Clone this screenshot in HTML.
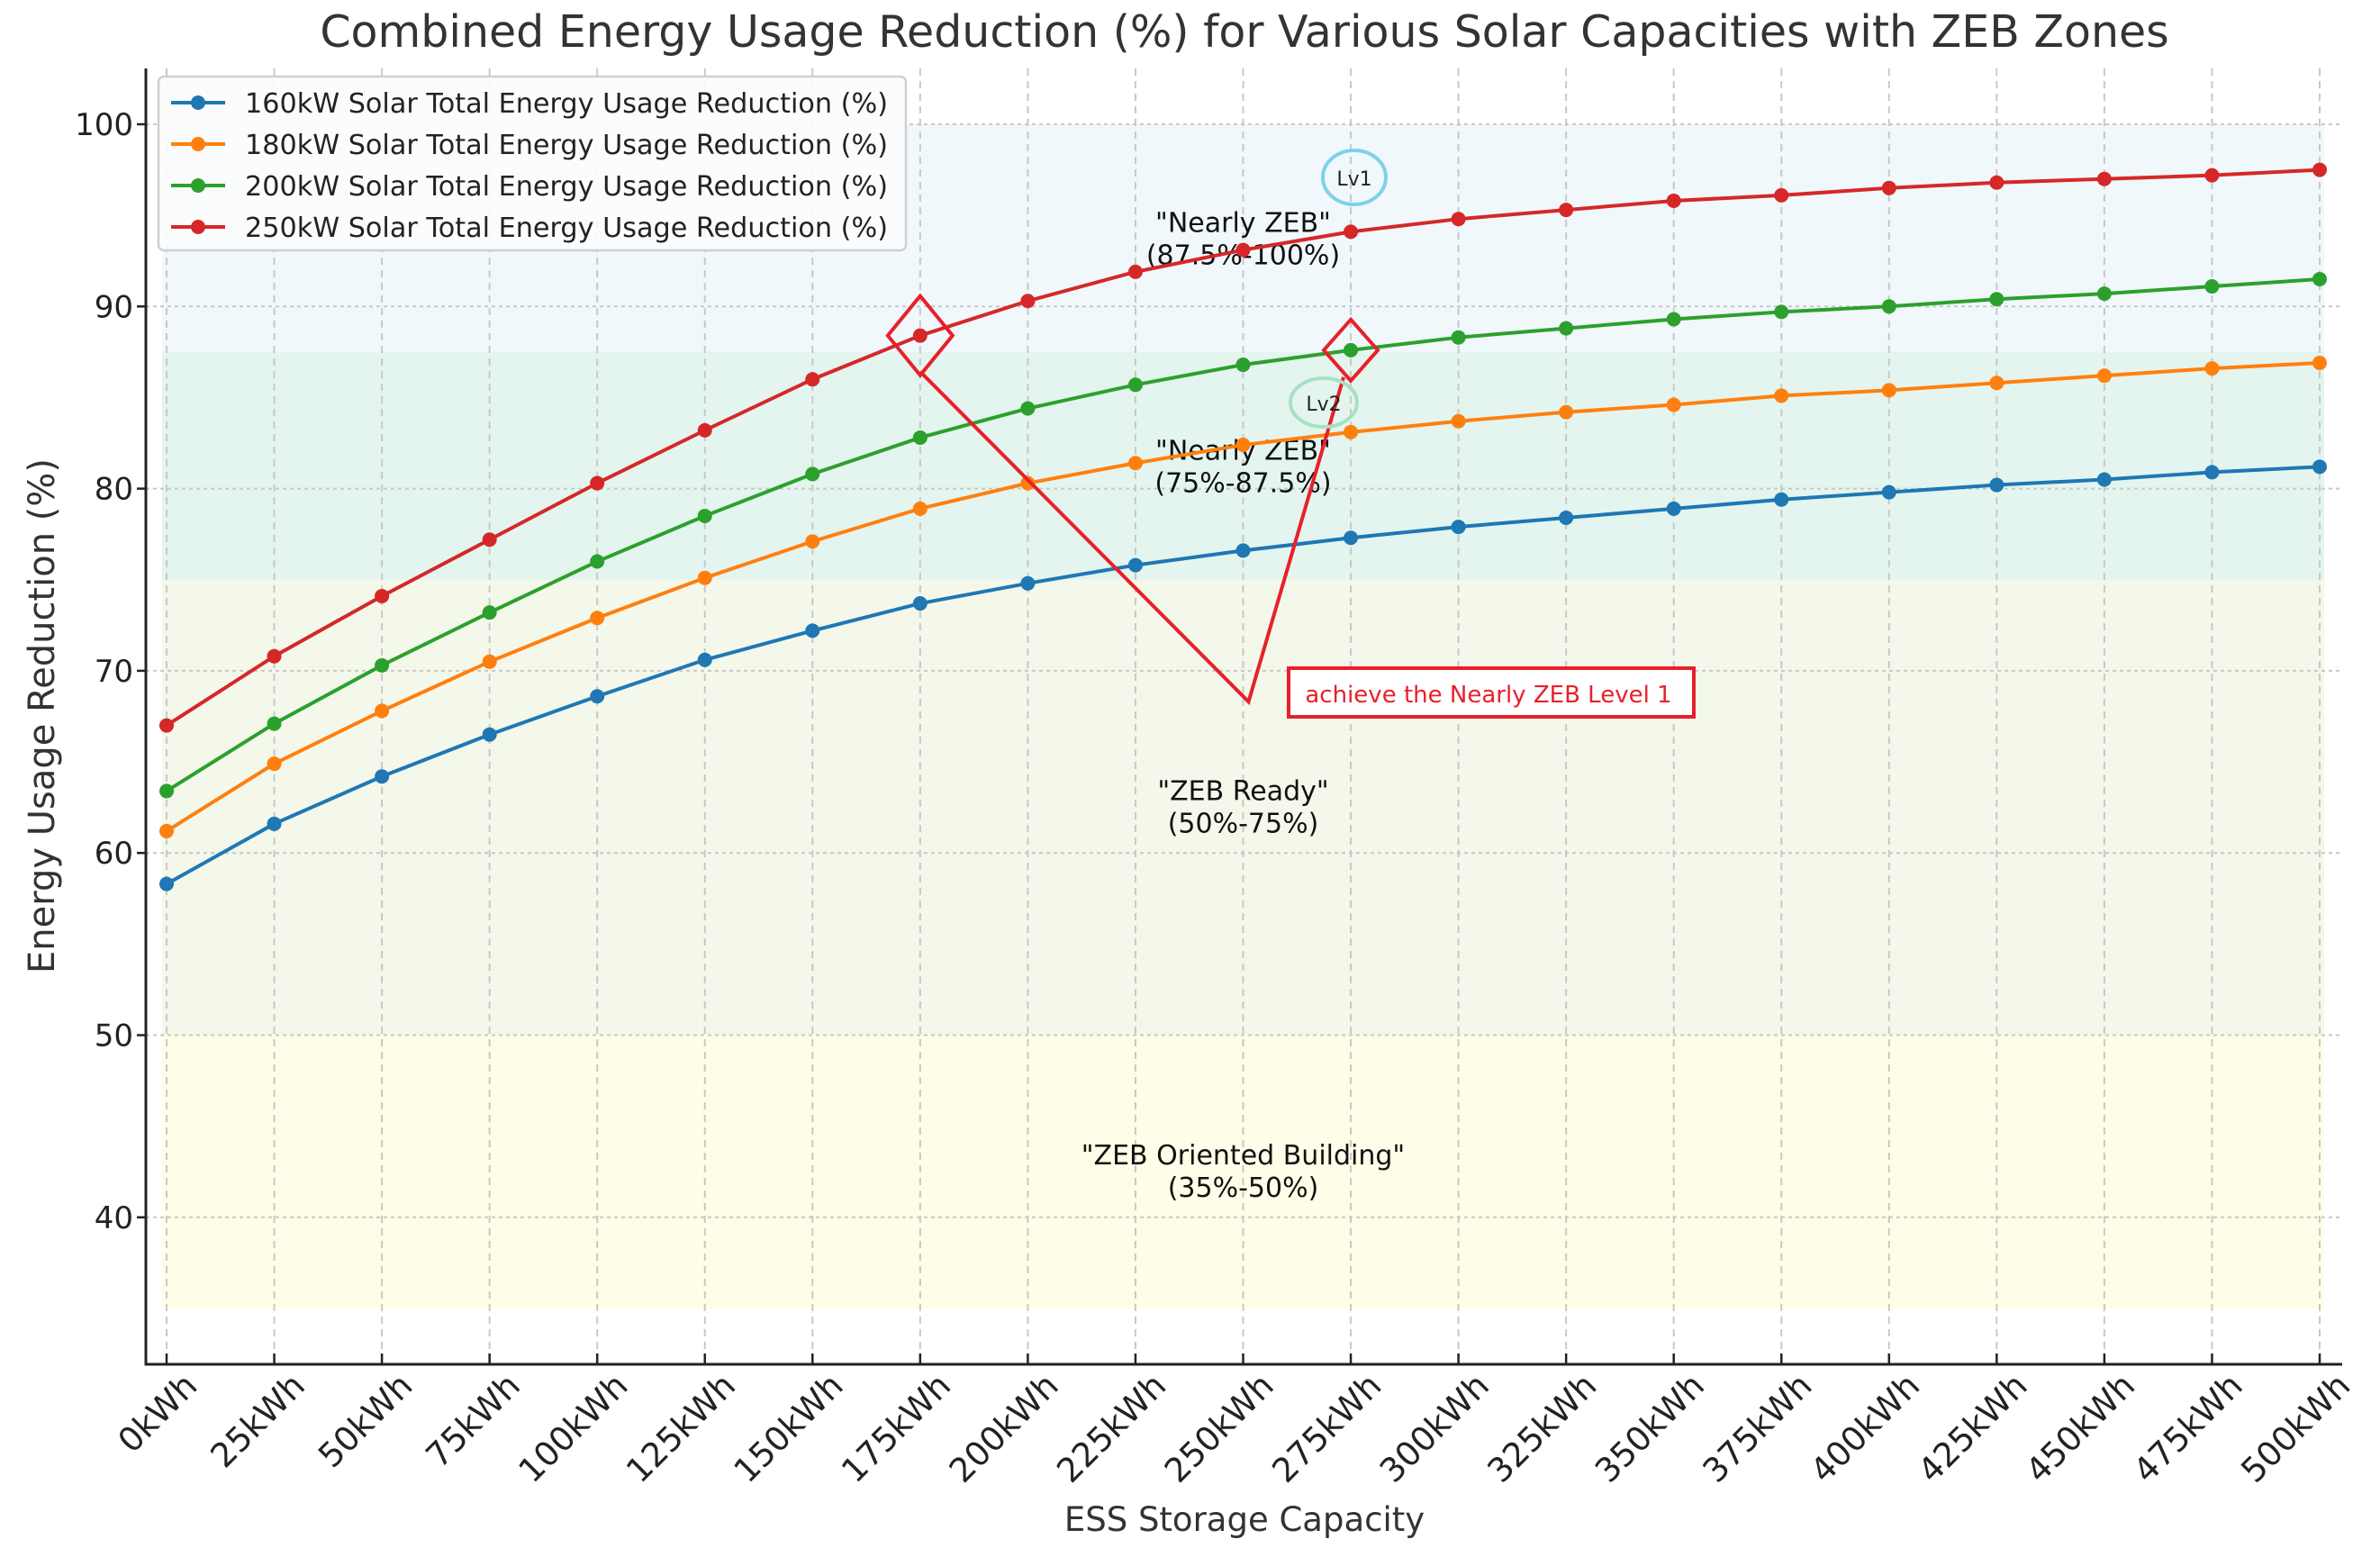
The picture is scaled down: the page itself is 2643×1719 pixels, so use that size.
<!DOCTYPE html>
<html><head><meta charset="utf-8"><style>
html,body{margin:0;padding:0;background:#fff}
svg{display:block;font-family:"DejaVu Sans","Liberation Sans",sans-serif}
</style></head><body>
<svg id="chart" width="2643" height="1719" viewBox="0 0 2643 1719" xmlns="http://www.w3.org/2000/svg">
<g id="bands"></g><g id="grid"></g><g id="zones"></g><g id="series"></g><g id="axes"></g><g id="annot"></g><g id="legend"></g>
</svg>
<script>
const categories=[0,25,50,75,100,125,150,175,200,225,250,275,300,325,350,375,400,425,450,475,500];
const s160=[58.3,61.6,64.2,66.5,68.6,70.6,72.2,73.7,74.8,75.8,76.6,77.3,77.9,78.4,78.9,79.4,79.8,80.2,80.5,80.9,81.2];
const s180=[61.2,64.9,67.8,70.5,72.9,75.1,77.1,78.9,80.3,81.4,82.4,83.1,83.7,84.2,84.6,85.1,85.4,85.8,86.2,86.6,86.9];
const s200=[63.4,67.1,70.3,73.2,76.0,78.5,80.8,82.8,84.4,85.7,86.8,87.6,88.3,88.8,89.3,89.7,90.0,90.4,90.7,91.1,91.5];
const s250=[67.0,70.8,74.1,77.2,80.3,83.2,86.0,88.4,90.3,91.9,93.1,94.1,94.8,95.3,95.8,96.1,96.5,96.8,97.0,97.2,97.5];
const yTicks=[40,50,60,70,80,90,100];
const seriesNames=["160kW Solar Total Energy Usage Reduction (%)","180kW Solar Total Energy Usage Reduction (%)","200kW Solar Total Energy Usage Reduction (%)","250kW Solar Total Energy Usage Reduction (%)"];
const zoneLo=[87.5,75,50,35];
const zoneHi=[100,87.5,75,50];
const zoneLabel1=['"Nearly ZEB"','"Nearly ZEB"','"ZEB Ready"','"ZEB Oriented Building"'];
const zoneLabel2=['(87.5%-100%)','(75%-87.5%)','(50%-75%)','(35%-50%)'];

const NS="http://www.w3.org/2000/svg";
const L=162,R=2601,T=76,B=1515;
const x=v=>185+v*(2576-185)/500;
const y=v=>138+(100-v)*20.23;
function mk(p,tag,at,txt){const e=document.createElementNS(NS,tag);for(const k in at)e.setAttribute(k,at[k]);if(txt!==undefined)e.textContent=txt;document.getElementById(p).appendChild(e);return e;}

const bandCols=["#f0f8fb","#e3f5ee","#f3f8ea","#fefde8"];
zoneLo.forEach((lo,i)=>{
 const r=mk('bands','rect',{x:x(0)-5,y:y(zoneHi[i]),width:x(500)-x(0)+10,height:y(lo)-y(zoneHi[i]),fill:bandCols[i]});
 
 
});
categories.forEach(c=>{
 const g=mk('grid','line',{x1:x(c),x2:x(c),y1:T,y2:B,stroke:"#c8c8c8","stroke-width":2,"stroke-dasharray":"8,6"});
 
 
 const t=mk('axes','line',{x1:x(c),x2:x(c),y1:B,y2:B-12,stroke:"#222","stroke-width":2.5});
 
 
 const ax0=x(c)+36, ay0=B+26;
 const lb=mk('axes','text',{x:ax0,y:ay0,"font-size":37,fill:"#222","text-anchor":"end",transform:`rotate(-45 ${ax0} ${ay0})`},c+"kWh");
 
 
});
yTicks.forEach(v=>{
 const g=mk('grid','line',{x1:L,x2:R,y1:y(v),y2:y(v),stroke:"#c8c8c8","stroke-width":2,"stroke-dasharray":"4,4"});
 
 
 const t=mk('axes','line',{x1:L-10,x2:L,y1:y(v),y2:y(v),stroke:"#222","stroke-width":2.5});
 
 
 const lb=mk('axes','text',{x:L-14,y:y(v)+12,"font-size":34,fill:"#222","text-anchor":"end"},v);
 
 
});
zoneLo.forEach((lo,i)=>{
 const cx=x(250);
 const yy=[y(93.7),y(81.2),y(62.5),y(42.5)][i];
 const a=mk('zones','text',{x:cx,y:yy-8,"font-size":30,fill:"#111","text-anchor":"middle"},zoneLabel1[i]);
 
 
 const b=mk('zones','text',{x:cx,y:yy+28,"font-size":30,fill:"#111","text-anchor":"middle"},zoneLabel2[i]);
 
 
});
const cols=["#1f77b4","#ff7f0e","#2ca02c","#d62728"];
[s160,s180,s200,s250].forEach((s,i)=>{
 const p=mk('series','polyline',{points:s.map((v,j)=>x(categories[j])+","+y(v)).join(" "),fill:"none",stroke:cols[i],"stroke-width":4});
 
 
 s.forEach((v,j)=>{
  const c=mk('series','circle',{cx:x(categories[j]),cy:y(v),r:8,fill:cols[i]});
  
  
 });
});
const ax=mk('axes','path',{d:`M${L} ${T} V${B} H${R}`,fill:"none",stroke:"#222","stroke-width":3});


const tt=mk('axes','text',{x:1382,y:52,"font-size":49,fill:"#333","text-anchor":"middle"},"Combined Energy Usage Reduction (%) for Various Solar Capacities with ZEB Zones");


const xt=mk('axes','text',{x:1382,y:1700,"font-size":37,fill:"#333","text-anchor":"middle"},"ESS Storage Capacity");


const yt=mk('axes','text',{x:60,y:795,"font-size":40,fill:"#333","text-anchor":"middle",transform:"rotate(-90 60 795)"},"Energy Usage Reduction (%)");


const d1x=x(175),d1y=y(88.4),d2x=x(275),d2y=y(87.6);
const dm1=mk('annot','path',{d:`M${d1x} ${d1y-44} L${d1x+36} ${d1y} L${d1x} ${d1y+44} L${d1x-36} ${d1y} Z`,fill:"none",stroke:"#e8202a","stroke-width":4});


const dm2=mk('annot','path',{d:`M${d2x} ${d2y-34} L${d2x+30} ${d2y} L${d2x} ${d2y+34} L${d2x-30} ${d2y} Z`,fill:"none",stroke:"#e8202a","stroke-width":4});


const vp=mk('annot','polyline',{points:`${d1x},${d1y+40} ${x(250)+6},${y(68.3)} ${d2x-8},${d2y+30}`,fill:"none",stroke:"#e8202a","stroke-width":4});


const bx=mk('annot','rect',{x:1431,y:742,width:450,height:54,fill:"#fff",stroke:"#e8202a","stroke-width":4});


const bt=mk('annot','text',{x:1653,y:780,"font-size":26,fill:"#e8202a","text-anchor":"middle"},"achieve the Nearly ZEB Level 1");


const e1=mk('annot','ellipse',{cx:1504,cy:197,rx:35,ry:30,fill:"none",stroke:"#7fd0ea","stroke-width":4});


const e1t=mk('annot','text',{x:1504,y:206,"font-size":22,fill:"#222","text-anchor":"middle"},"Lv1");


const e2=mk('annot','ellipse',{cx:1470,cy:447,rx:37,ry:27,fill:"none",stroke:"#a8e0c4","stroke-width":4});


const e2t=mk('annot','text',{x:1470,y:456,"font-size":22,fill:"#222","text-anchor":"middle"},"Lv2");


const lg=mk('legend','rect',{x:176,y:85,width:830,height:193,rx:6,fill:"#fcfcfd","fill-opacity":0.92,stroke:"#d0d0d0","stroke-width":2.5});


seriesNames.forEach((n,i)=>{
 const yy=114+i*46;
 const l=mk('legend','line',{x1:190,x2:250,y1:yy,y2:yy,stroke:cols[i],"stroke-width":4});
 
 
 const c=mk('legend','circle',{cx:220,cy:yy,r:8,fill:cols[i]});
 
 
 const t=mk('legend','text',{x:272,y:yy+11,"font-size":30,fill:"#222",textLength:714,lengthAdjust:"spacingAndGlyphs"},n);
 
 
});
</script>
</body></html>
